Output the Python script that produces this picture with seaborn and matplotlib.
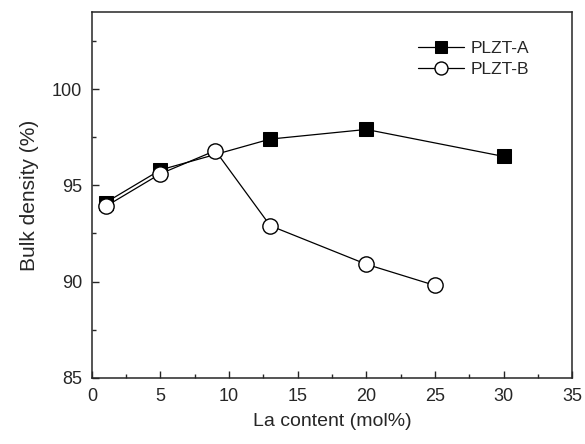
import matplotlib
matplotlib.use('Agg')
import matplotlib.pyplot as plt
from matplotlib.ticker import MultipleLocator
import seaborn as sns
import pandas as pd

# values
la_a = [1, 5, 13, 20, 30]
dens_a = [94.1, 95.8, 97.4, 97.9, 96.5]
la_b = [1, 5, 9, 13, 20, 25]
dens_b = [93.9, 95.6, 96.8, 92.9, 90.9, 89.8]

sns.set_style('ticks')
plt.rcParams['font.family'] = ['Liberation Sans', 'DejaVu Sans']
plt.rcParams['xtick.direction'] = 'in'
plt.rcParams['ytick.direction'] = 'in'

df_a = pd.DataFrame({'La': la_a, 'density': dens_a})
df_b = pd.DataFrame({'La': la_b, 'density': dens_b})

fig = plt.figure(figsize=(5.85, 4.44), dpi=100)
ax = fig.add_axes([0.157, 0.149, 0.821, 0.824])

sns.lineplot(data=df_a, x='La', y='density', ax=ax, color='black',
             linewidth=0.9, marker='s', markersize=10,
             markerfacecolor='black', markeredgecolor='black',
             label='PLZT-A', zorder=2)
sns.lineplot(data=df_b, x='La', y='density', ax=ax, color='black',
             linewidth=0.9, marker='o', markersize=11,
             markerfacecolor='white', markeredgecolor='black',
             markeredgewidth=1.0, label='PLZT-B', zorder=3)

ax.set_xlim(0, 35)
ax.set_ylim(85, 104)
ax.xaxis.set_major_locator(MultipleLocator(5))
ax.xaxis.set_minor_locator(MultipleLocator(2.5))
ax.yaxis.set_major_locator(MultipleLocator(5))
ax.yaxis.set_minor_locator(MultipleLocator(2.5))
ax.tick_params(which='major', length=5, width=1, labelsize=13, pad=7)
ax.tick_params(which='minor', length=3, width=1)
for s in ax.spines.values():
    s.set_linewidth(1.1)

ax.set_xlabel('La content (mol%)', fontsize=14, labelpad=6)
ax.set_ylabel('Bulk density (%)', fontsize=15, labelpad=9)

ax.legend(loc='upper left', bbox_to_anchor=(0.68, 0.92), frameon=False,
          fontsize=12.5, handlelength=2.6, handletextpad=0.4,
          labelspacing=0.3, borderaxespad=0, borderpad=0, markerscale=0.85)

fig.savefig('out.png', dpi=100)
